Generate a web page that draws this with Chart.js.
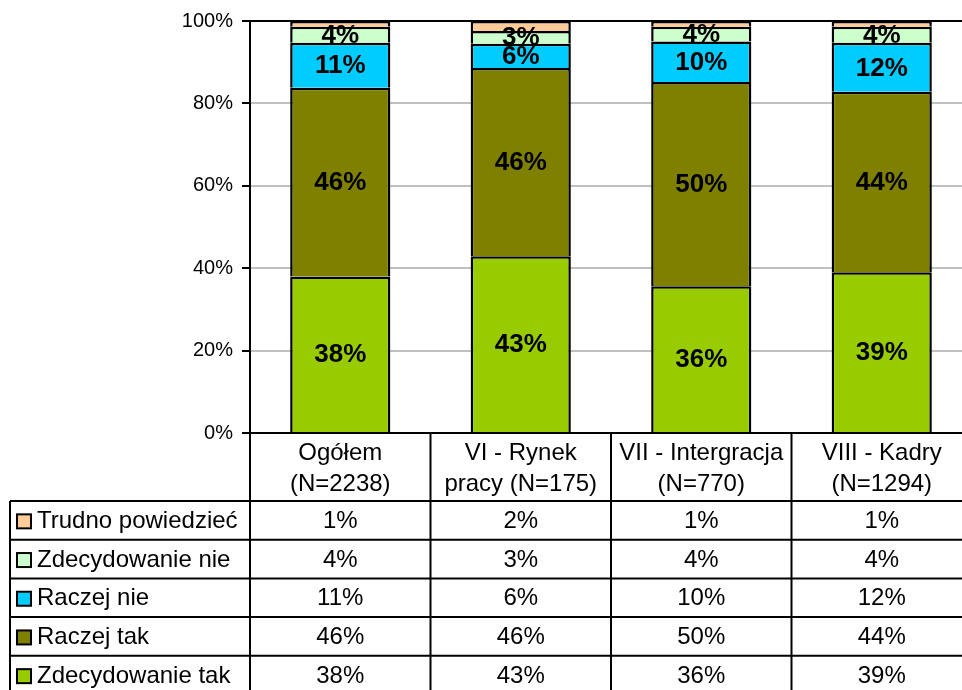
<!DOCTYPE html>
<html>
<head>
<meta charset="utf-8">
<script src="https://cdn.jsdelivr.net/npm/chart.js@4"></script>
<style>
  html, body { margin: 0; padding: 0; background: #fff; overflow: hidden; }
  #wrap { width: 962px; height: 690px; overflow: hidden; }
</style>
</head>
<body>
<div id="wrap"><canvas id="chart" width="972" height="690"></canvas></div>
<script>
// column headers (two lines each, as in the table)
const headerLines = [
  ['Ogółem', '(N=2238)'],
  ['VI - Rynek', 'pracy (N=175)'],
  ['VII - Intergracja', '(N=770)'],
  ['VIII - Kadry', '(N=1294)']
];
const categories = headerLines.map(l => l.join(' '));

const seriesNames = ['Zdecydowanie tak', 'Raczej tak', 'Raczej nie', 'Zdecydowanie nie', 'Trudno powiedzieć'];
const seriesColors = ['#99CC00', '#808000', '#00CCFF', '#CCFFCC', '#FFCC99'];

// values in %
const zdecydowanieTak = [38.0, 42.9, 35.6, 39.0];
const raczejTak = [45.8, 45.7, 49.6, 43.8];
const raczejNie = [10.9, 5.9, 9.8, 11.9];
const zdecydowanieNie = [3.9, 3.1, 3.6, 3.9];
const trudnoPowiedziec = [1.4, 2.4, 1.4, 1.4];
const seriesValues = [zdecydowanieTak, raczejTak, raczejNie, zdecydowanieNie, trudnoPowiedziec];

const yTicks = [0, 20, 40, 60, 80, 100];

const FONT = '"Liberation Sans", Arial, sans-serif';

// labels inside the bar segments
const barLabels = {
  id: 'barLabels',
  afterDatasetsDraw(chart) {
    const ctx = chart.ctx;
    ctx.save();
    ctx.font = 'bold 26px ' + FONT;
    ctx.fillStyle = '#000';
    ctx.textAlign = 'center';
    ctx.textBaseline = 'middle';
    chart.data.datasets.forEach((ds, di) => {
      if (di === 4) return; // Trudno powiedzieć not labelled
      chart.getDatasetMeta(di).data.forEach((bar, i) => {
        const v = ds.data[i];
        if (v < 3) return;
        ctx.fillText(Math.round(v) + '%', bar.x, (bar.y + bar.base) / 2 + 1);
      });
    });
    ctx.restore();
  }
};

// data table under the plot
const dataTable = {
  id: 'dataTable',
  afterDraw(chart) {
    const ctx = chart.ctx;
    const x = chart.scales.x;
    const area = chart.chartArea;
    const colW = x.width / categories.length;
    const top = area.bottom;
    const headerBottom = 501;
    const rowH = 38.7;
    const leftX = 10;
    const rows = [4, 3, 2, 1, 0]; // dataset index, top row first

    ctx.save();
    ctx.strokeStyle = '#000';
    ctx.lineWidth = 2;
    ctx.fillStyle = '#000';
    ctx.textBaseline = 'middle';
    ctx.textAlign = 'center';
    ctx.font = '24px ' + FONT;

    // header
    ctx.beginPath();
    ctx.moveTo(area.left, top);
    ctx.lineTo(area.right, top);
    for (let i = 0; i <= categories.length; i++) {
      const bx = area.left + i * colW;
      ctx.moveTo(bx, top);
      ctx.lineTo(bx, headerBottom + rowH * rows.length);
    }
    ctx.stroke();
    headerLines.forEach((lines, i) => {
      const cx = x.getPixelForValue(i);
      ctx.fillText(lines[0], cx, 453);
      ctx.fillText(lines[1], cx, 484);
    });

    // rows
    ctx.beginPath();
    ctx.moveTo(leftX, headerBottom);
    ctx.lineTo(leftX, headerBottom + rowH * rows.length);
    for (let r = 0; r <= rows.length; r++) {
      const ry = headerBottom + r * rowH;
      ctx.moveTo(leftX, ry);
      ctx.lineTo(area.right, ry);
    }
    ctx.stroke();

    rows.forEach((di, r) => {
      const cy = headerBottom + r * rowH + rowH / 2 + 1;
      // legend key
      ctx.fillStyle = seriesColors[di];
      ctx.fillRect(17, cy - 7, 14, 14);
      ctx.lineWidth = 2;
      ctx.strokeRect(17, cy - 7, 14, 14);
      ctx.fillStyle = '#000';
      ctx.textAlign = 'left';
      ctx.fillText(seriesNames[di], 37, cy);
      ctx.textAlign = 'center';
      seriesValues[di].forEach((v, i) => {
        ctx.fillText(Math.round(v) + '%', x.getPixelForValue(i), cy);
      });
    });
    ctx.restore();
  }
};

new Chart(document.getElementById('chart').getContext('2d'), {
  type: 'bar',
  data: {
    labels: categories,
    datasets: seriesNames.map((name, i) => ({
      label: name,
      data: seriesValues[i],
      backgroundColor: seriesColors[i],
      borderColor: '#000',
      borderWidth: { top: 2.5, left: 2.5, right: 2.5, bottom: 0 },
      borderSkipped: false,
      inflateAmount: 0,
      barPercentage: 0.555,
      categoryPercentage: 1
    }))
  },
  options: {
    responsive: false,
    animation: false,
    devicePixelRatio: 1,
    layout: { padding: { left: 0, top: 20, right: 0, bottom: 257 } },
    plugins: {
      legend: { display: false },
      tooltip: { enabled: false }
    },
    scales: {
      x: {
        stacked: true,
        display: false
      },
      y: {
        stacked: true,
        min: 0,
        max: 100,
        afterFit: s => { s.width = 250; },
        afterBuildTicks: s => { s.ticks = yTicks.map(v => ({ value: v })); },
        border: { color: '#000', width: 2 },
        grid: {
          color: c => (c.tick && c.tick.value === 100) ? '#000' : '#c0c0c0',
          lineWidth: 2,
          tickColor: '#000',
          tickLength: 8
        },
        ticks: {
          padding: 9,
          color: '#000',
          font: { family: FONT, size: 20 },
          callback: v => v + '%'
        }
      }
    }
  },
  plugins: [barLabels, dataTable]
});
</script>
</body>
</html>
